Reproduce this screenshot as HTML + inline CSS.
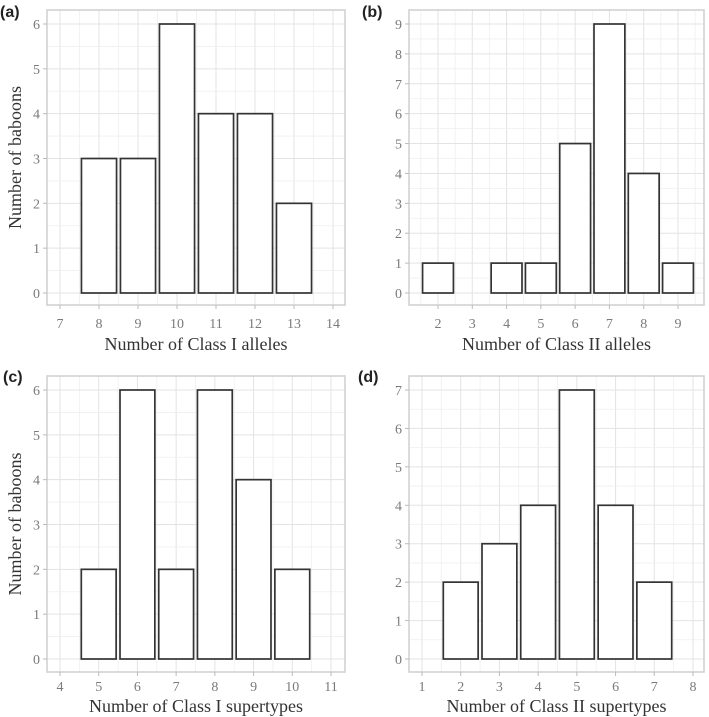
<!DOCTYPE html>
<html><head><meta charset="utf-8"><style>
html,body{margin:0;padding:0;background:#fff;}
svg{display:block;font-family:"Liberation Serif",serif;}
</style></head><body>
<svg id="chart" width="709" height="717" viewBox="0 0 709 717" xmlns="http://www.w3.org/2000/svg"></svg>
<script>
// Panel (a)
const catsA = [8, 9, 10, 11, 12, 13];
const valsA = [3, 3, 6, 4, 4, 2];
const xTicksA = [7, 8, 9, 10, 11, 12, 13, 14];
const yTicksA = [0, 1, 2, 3, 4, 5, 6];
// Panel (b)
const catsB = [2, 4, 5, 6, 7, 8, 9];
const valsB = [1, 1, 1, 5, 9, 4, 1];
const xTicksB = [2, 3, 4, 5, 6, 7, 8, 9];
const yTicksB = [0, 1, 2, 3, 4, 5, 6, 7, 8, 9];
// Panel (c)
const catsC = [5, 6, 7, 8, 9, 10];
const valsC = [2, 6, 2, 6, 4, 2];
const xTicksC = [4, 5, 6, 7, 8, 9, 10, 11];
const yTicksC = [0, 1, 2, 3, 4, 5, 6];
// Panel (d)
const catsD = [2, 3, 4, 5, 6, 7];
const valsD = [2, 3, 4, 7, 4, 2];
const xTicksD = [1, 2, 3, 4, 5, 6, 7, 8];
const yTicksD = [0, 1, 2, 3, 4, 5, 6, 7];

const NS = "http://www.w3.org/2000/svg";
const svg = document.getElementById('chart');
function mk(tag, attrs, parent){
  const e = document.createElementNS(NS, tag);
  for (const k in attrs) e.setAttribute(k, attrs[k]);
  (parent||svg).appendChild(e);
  return e;
}
function lin(v0,p0,v1,p1){ return v => p0 + (v - v0) * (p1 - p0) / (v1 - v0); }

function panel(cfg){
  const g = mk('g', {});
  
  
  const xs = cfg.xs, ys = cfg.ys, b = cfg.box;
  const xminD = xs.inv(b.l), xmaxD = xs.inv(b.r);
  const ymaxD = ys.inv(b.t), yminD = ys.inv(b.b);
  const grid = mk('g', {}, g);
  
  
  for (let v = Math.ceil(xminD*2)/2; v <= xmaxD; v += 0.5){
    const major = Math.abs(v - Math.round(v)) < 1e-6;
    const ln = mk('line', {x1: xs(v), x2: xs(v), y1: b.t, y2: b.b, stroke: major ? '#e3e3e3' : '#efefef', 'stroke-width': major ? 1 : 0.8}, grid);
    
    
  }
  for (let v = Math.ceil(yminD*2)/2; v <= ymaxD; v += 0.5){
    const major = Math.abs(v - Math.round(v)) < 1e-6;
    const ln = mk('line', {x1: b.l, x2: b.r, y1: ys(v), y2: ys(v), stroke: major ? '#e3e3e3' : '#efefef', 'stroke-width': major ? 1 : 0.8}, grid);
    
    
  }
  cfg.cats.forEach((c, i) => {
    const x0 = xs(c - 0.45), x1 = xs(c + 0.45);
    const y0 = ys(cfg.vals[i]), yb = ys(0);
    const r = mk('rect', {x: x0, y: y0, width: x1 - x0, height: yb - y0, fill: '#fff', stroke: '#333', 'stroke-width': 1.7}, g);
    
    
  });
  const br = mk('rect', {x: b.l, y: b.t, width: b.r - b.l, height: b.b - b.t, fill: 'none', stroke: '#cfcfcf', 'stroke-width': 1.5}, g);
  
  
  cfg.xTicks.forEach(t => {
    const tk = mk('line', {x1: xs(t), x2: xs(t), y1: b.b, y2: b.b + 4, stroke: '#bbb', 'stroke-width': 1}, g);
    
    
    const tx = mk('text', {x: xs(t), y: b.b + cfg.tickOff, 'text-anchor': 'middle', 'font-size': 14, fill: '#7a7a7a'}, g);
    tx.textContent = t;
    
    
  });
  cfg.yTicks.forEach(t => {
    const tk = mk('line', {x1: b.l - 4, x2: b.l, y1: ys(t), y2: ys(t), stroke: '#bbb', 'stroke-width': 1}, g);
    
    
    const tx = mk('text', {x: b.l - 7, y: ys(t) + 5, 'text-anchor': 'end', 'font-size': 14, fill: '#7a7a7a'}, g);
    tx.textContent = t;
    
    
  });
  const xt = mk('text', {x: (b.l + b.r) / 2, y: b.b + cfg.titleOff, 'text-anchor': 'middle', 'font-size': 18, fill: '#333'}, g);
  xt.textContent = cfg.xTitle;
  
  
  if (cfg.yTitle){
    const cy = (b.t + b.b) / 2;
    const yt = mk('text', {x: 0, y: 0, 'text-anchor': 'middle', 'font-size': 18, fill: '#333', transform: 'translate(21,' + cy + ') rotate(-90)'}, g);
    yt.textContent = cfg.yTitle;
    
    
  }
  const pl = mk('text', {x: cfg.lx, y: cfg.ly, 'font-size': 16, 'font-weight': 'bold', fill: '#222', 'font-family': '"Liberation Sans", sans-serif'}, g);
  pl.textContent = '(' + cfg.id + ')';
  
  
}
function scale(v0,p0,v1,p1){
  const f = lin(v0,p0,v1,p1);
  f.inv = lin(p0,v0,p1,v1);
  return f;
}
panel({id:'a', cats:catsA, vals:valsA, xTicks:xTicksA, yTicks:yTicksA,
  xs: scale(7,60,14,333), ys: scale(0,293,6,24), box:{l:47,r:345,t:10,b:305},
  xTitle:'Number of Class I alleles', yTitle:'Number of baboons', lx:0, ly:17, tickOff:23, titleOff:45});
panel({id:'b', cats:catsB, vals:valsB, xTicks:xTicksB, yTicks:yTicksB,
  xs: scale(2,438,9,678), ys: scale(0,293,9,24), box:{l:409,r:704,t:10,b:305},
  xTitle:'Number of Class II alleles', yTitle:null, lx:362, ly:17, tickOff:23, titleOff:45});
panel({id:'c', cats:catsC, vals:valsC, xTicks:xTicksC, yTicks:yTicksC,
  xs: scale(4,60,11,331), ys: scale(0,659,6,390), box:{l:47,r:345,t:376,b:672},
  xTitle:'Number of Class I supertypes', yTitle:'Number of baboons', lx:3, ly:382, tickOff:19, titleOff:40});
panel({id:'d', cats:catsD, vals:valsD, xTicks:xTicksD, yTicks:yTicksD,
  xs: scale(1,422,8,693), ys: scale(0,659,7,390), box:{l:409,r:704,t:376,b:672},
  xTitle:'Number of Class II supertypes', yTitle:null, lx:358, ly:382, tickOff:19, titleOff:40});
</script>
</body></html>
